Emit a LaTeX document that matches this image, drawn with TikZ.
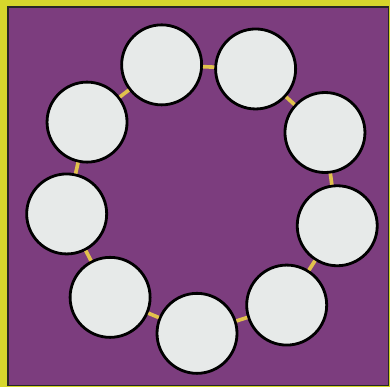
\documentclass[tikz,border=0pt]{standalone}
\usepackage{tikz}
\usetikzlibrary{calc}
\definecolor{ringPurple}{HTML}{7C3D7E}
\definecolor{frameYellow}{HTML}{D6D62C}
\definecolor{linkGold}{HTML}{E2C24C}
\definecolor{discGrey}{HTML}{E7EAE9}
\tikzset{
  disc/.style={circle, draw=black, line width=2pt, fill=discGrey, minimum size=2cm, inner sep=0pt},
  link/.style={linkGold, line width=2.6pt}
}

\begin{document}
\begin{tikzpicture}[x=0.25cm, y=0.25cm]
  \useasboundingbox (0,0) rectangle (39,38.7);
  \fill[frameYellow] (0,0) rectangle (39,38.7);
  \draw[black!85, line width=1.4pt, fill=ringPurple] (0.8,0.15) rectangle (38.85,38.0);
  % ring of discs
  \foreach \i in {1,...,9}{
    \node[disc] (c\i) at ($(20.3,19.1)+({-92.5+40*(\i-1)}:13.75)$) {};
  }
  \foreach \i [remember=\i as \j (initially 9)] in {1,...,9}{
    \draw[link] (c\j) -- (c\i);
  }
\end{tikzpicture}
\end{document}
